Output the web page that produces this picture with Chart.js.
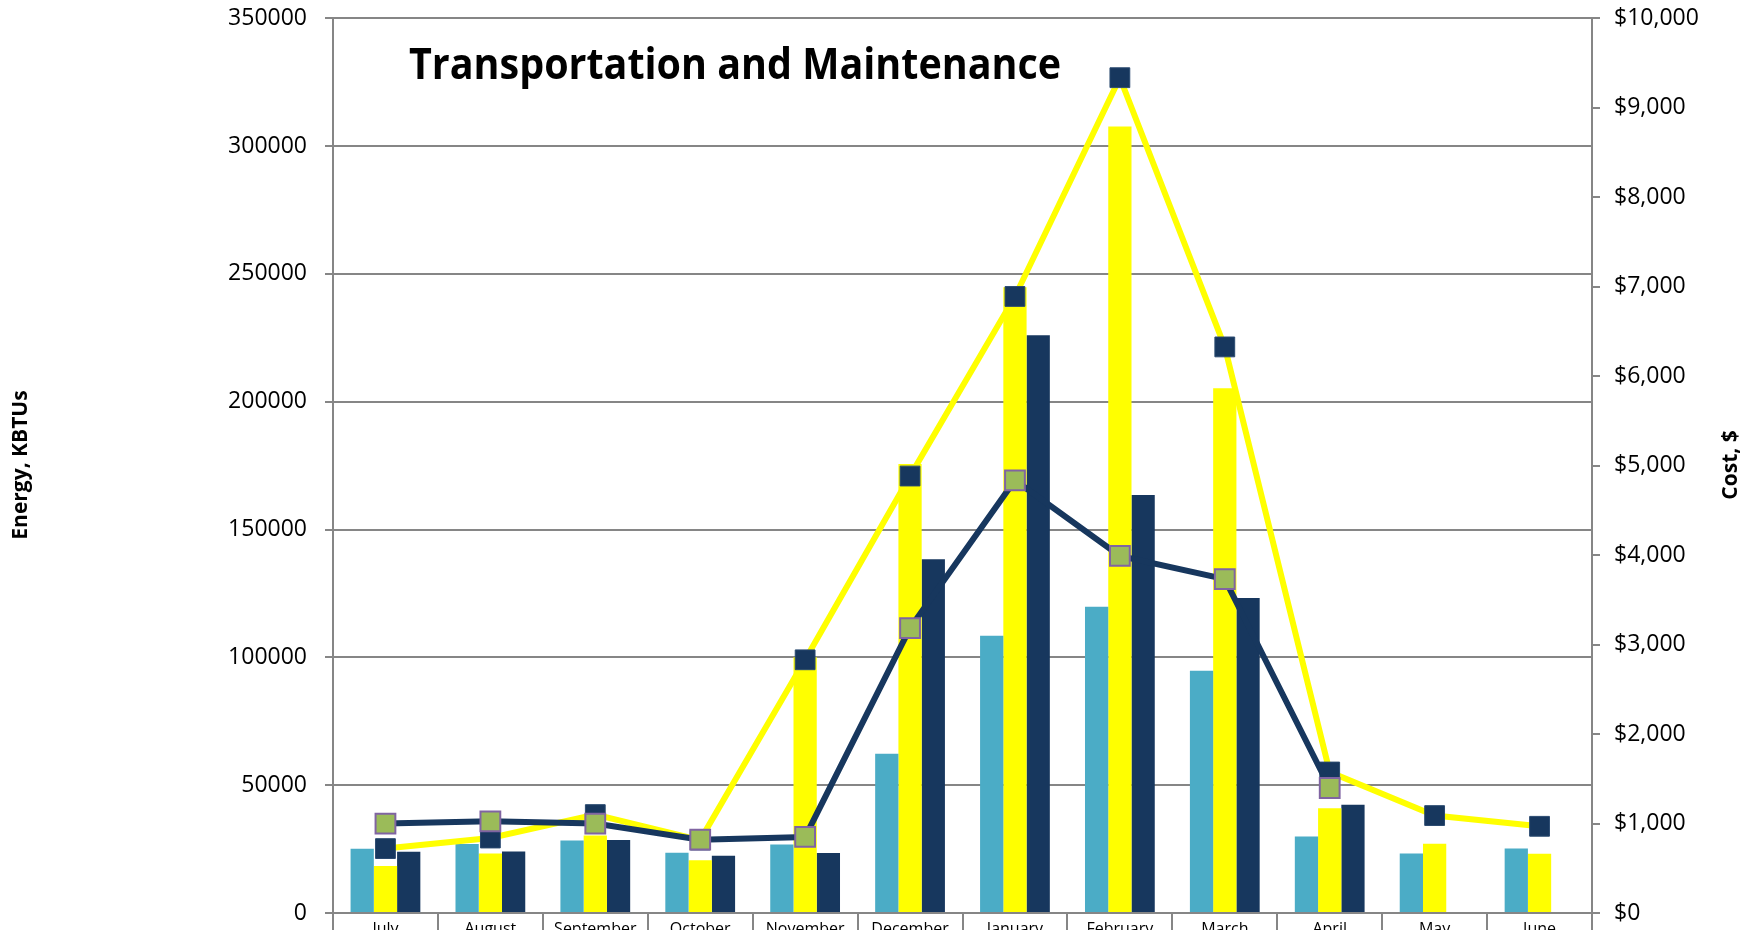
<!DOCTYPE html>
<html>
<head>
<meta charset="utf-8">
<title>Transportation and Maintenance</title>
<script src="https://cdn.jsdelivr.net/npm/chart.js@4.4.1/dist/chart.umd.min.js"></script>
<style>
  html, body { margin: 0; padding: 0; background: #fff; overflow: hidden; }
  #wrap { position: relative; width: 1759px; height: 1000px; }
</style>
</head>
<body>
<div id="wrap"><canvas id="energyChart"></canvas></div>
<script>
// months of the fiscal year
const months = ['July', 'August', 'September', 'October', 'November', 'December',
  'January', 'February', 'March', 'April', 'May', 'June'];

// energy, KBTUs (bars, left axis)
const energyBlue = [25150, 26950, 28400, 23600, 26840, 62280, 108500, 119800, 94740, 29960, 23320, 25270];
const energyYellow = [18360, 23320, 30350, 20590, 100000, 175660, 244800, 307700, 205300, 41020, 27100, 23200];
const energyNavy = [23980, 24100, 28520, 22420, 23440, 138400, 226050, 163550, 123250, 42340, null, null];

// cost, $ (lines, right axis)
const costYellow = [720, 838, 1100, 815, 2830, 4884, 6891, 9336, 6327, 1576, 1089, 969];
const costNavy = [1000, 1025, 1000, 820, 850, 3184, 4836, 3992, 3732, 1397, null, null];

const leftTicks = { min: 0, max: 350000, step: 50000 };
const rightTicks = { min: 0, max: 10000, step: 1000 };

const gridGray = '#868686';
const txtFont = 'Open Sans';

// titles drawn straight on the canvas (right one reads bottom to top like the original)
const textPlugin = {
  id: 'chartTexts',
  afterDraw(chart) {
    const c = chart.ctx;
    c.save();
    c.fillStyle = '#000';
    c.font = 'bold 43px "' + txtFont + '"';
    c.textAlign = 'left';
    c.textBaseline = 'alphabetic';
    c.fillText('Transportation and Maintenance', 409, 79, 652);

    c.font = 'bold 21px "' + txtFont + '"';
    c.textAlign = 'center';
    c.textBaseline = 'middle';
    c.translate(21, 465);
    c.rotate(-Math.PI / 2);
    c.fillText('Energy, KBTUs', 0, 0, 157);
    c.restore();

    c.save();
    c.fillStyle = '#000';
    c.font = 'bold 21px "' + txtFont + '"';
    c.textAlign = 'center';
    c.textBaseline = 'middle';
    c.translate(1731, 465);
    c.rotate(-Math.PI / 2);
    c.fillText('Cost, $', 0, 0);
    c.restore();
  }
};

// fixed axis sizes so the plot sits where the original one does
function fitLeft(s) { s.width = 333; s.paddingTop = 0; s.paddingBottom = 0; }
function fitRight(s) { s.width = 167; s.paddingTop = 0; s.paddingBottom = 0; }

const ctx = document.getElementById('energyChart');

new Chart(ctx, {
  type: 'bar',
  data: {
    labels: months,
    datasets: [
      {
        type: 'line',
        label: 'Cost 2',
        data: costNavy,
        yAxisID: 'y1',
        borderColor: '#17375E',
        borderWidth: 6,
        pointStyle: 'rect',
        pointRadius: 14,
        pointBackgroundColor: '#9BBB59',
        pointBorderColor: '#8064A2',
        pointBorderWidth: 2,
        tension: 0,
        order: 0
      },
      {
        type: 'line',
        label: 'Cost 1',
        data: costYellow,
        yAxisID: 'y1',
        borderColor: '#FFFF00',
        borderWidth: 6,
        pointStyle: 'rect',
        pointRadius: 14,
        pointBackgroundColor: '#17375E',
        pointBorderColor: '#2A4A70',
        pointBorderWidth: 1,
        tension: 0,
        order: 1
      },
      {
        label: 'Energy 1',
        data: energyBlue,
        backgroundColor: '#4BACC6',
        yAxisID: 'y',
        order: 2
      },
      {
        label: 'Energy 2',
        data: energyYellow,
        backgroundColor: '#FFFF00',
        yAxisID: 'y',
        order: 2
      },
      {
        label: 'Energy 3',
        data: energyNavy,
        backgroundColor: '#17375E',
        yAxisID: 'y',
        order: 2
      }
    ]
  },
  options: {
    responsive: true,
    maintainAspectRatio: false,
    animation: false,
    categoryPercentage: 0.665,
    barPercentage: 1.0,
    layout: { padding: { top: 18.3, left: 0, right: 0, bottom: 0 } },
    plugins: {
      legend: { display: false },
      tooltip: { enabled: false },
      title: { display: false }
    },
    scales: {
      x: {
        offset: true,
        grid: {
          offset: true,
          drawOnChartArea: false,
          drawTicks: true,
          tickLength: 40,
          color: gridGray,
          lineWidth: 2
        },
        border: { color: gridGray, width: 2 },
        ticks: {
          color: '#000',
          padding: -33,
          maxRotation: 0,
          autoSkip: false,
          font: { family: txtFont, size: 16 }
        },
        afterFit: function (s) { s.height = 87; }
      },
      y: {
        position: 'left',
        min: leftTicks.min,
        max: leftTicks.max,
        ticks: {
          stepSize: leftTicks.step,
          color: '#000',
          padding: 18,
          font: { family: txtFont, size: 23 },
          callback: function (v) { return String(v); }
        },
        grid: { color: gridGray, lineWidth: 2, tickLength: 8 },
        border: { color: gridGray, width: 2 },
        afterFit: fitLeft
      },
      y1: {
        position: 'right',
        min: rightTicks.min,
        max: rightTicks.max,
        ticks: {
          stepSize: rightTicks.step,
          color: '#000',
          padding: 14,
          font: { family: txtFont, size: 23 },
          callback: function (v) { return '$' + v.toLocaleString('en-US'); }
        },
        grid: { drawOnChartArea: false, color: gridGray, lineWidth: 2, tickLength: 8 },
        border: { color: gridGray, width: 2 },
        afterFit: fitRight
      }
    }
  },
  plugins: [textPlugin]
});
</script>
</body>
</html>
